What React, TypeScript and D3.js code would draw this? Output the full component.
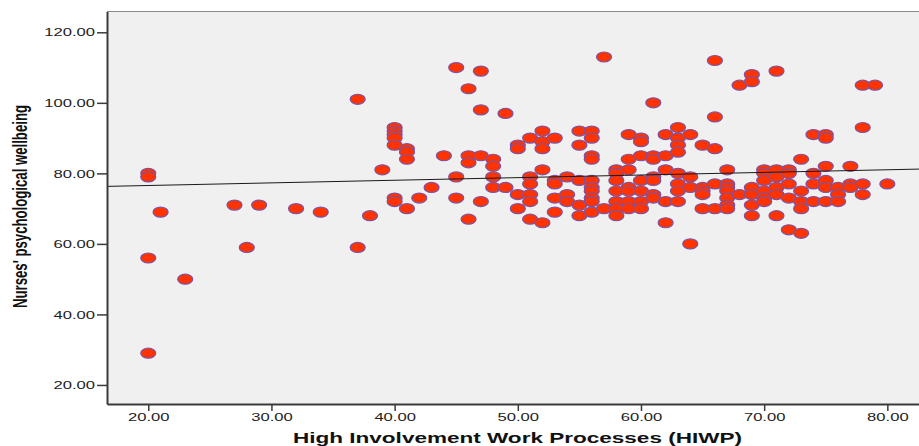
import React, { useEffect, useRef } from 'react';
import * as d3 from 'd3';

// HIWP score levels and the wellbeing scores recorded at each level
const hiwpScores = [20, 21, 23, 27, 28, 29, 32, 34, 37, 38, 39, 40, 41, 42, 43, 44, 45, 46, 47, 48, 49, 50,
  51, 52, 53, 54, 55, 56, 57, 58, 59, 60, 61, 62, 63, 64, 65, 66, 67, 68, 69, 70, 71, 72, 73, 74, 75, 76, 77, 78, 79, 80];

const wellbeingByScore = [
  [80, 79, 56, 29], // 20
  [69], // 21
  [50], // 23
  [71], // 27
  [59], // 28
  [71], // 29
  [70], // 32
  [69], // 34
  [101, 59], // 37
  [68], // 38
  [81], // 39
  [93, 92, 91, 90, 88, 73, 72], // 40
  [87, 86, 84, 70], // 41
  [73], // 42
  [76], // 43
  [85], // 44
  [110, 79, 73], // 45
  [104, 85, 83, 67], // 46
  [109, 98, 85, 72], // 47
  [84, 82, 79, 76], // 48
  [97, 76], // 49
  [88, 87, 74, 70], // 50
  [90, 79, 77, 74, 72, 67], // 51
  [92, 89, 87, 81, 66], // 52
  [90, 78, 77, 73, 69], // 53
  [79, 74, 72], // 54
  [92, 88, 78, 71, 68], // 55
  [92, 90, 85, 84, 78, 76, 75, 73, 72, 69], // 56
  [113, 70], // 57
  [81, 80, 78, 75, 72, 70, 68], // 58
  [91, 84, 81, 76, 75, 72, 70], // 59
  [90, 89, 85, 78, 75, 72, 70], // 60
  [100, 85, 84, 79, 78, 74, 73], // 61
  [91, 85, 81, 72, 66], // 62
  [93, 90, 88, 86, 80, 77, 75, 72], // 63
  [91, 79, 76, 60], // 64
  [88, 76, 75, 74, 70], // 65
  [112, 96, 87, 77, 70], // 66
  [81, 77, 76, 75, 73, 71, 70], // 67
  [105, 74], // 68
  [108, 106, 76, 74, 71, 68], // 69
  [81, 80, 78, 75, 73, 72], // 70
  [109, 81, 79, 76, 74, 68], // 71
  [81, 80, 77, 73, 64], // 72
  [84, 75, 72, 70, 63], // 73
  [91, 80, 77, 72], // 74
  [91, 90, 82, 78, 76, 72], // 75
  [76, 74, 72], // 76
  [82, 77, 76], // 77
  [105, 93, 77, 74], // 78
  [105], // 79
  [77], // 80
];

const xTicks = [20, 30, 40, 50, 60, 70, 80];
const yTicks = [20, 40, 60, 80, 100, 120];

// fit line as drawn in the original (wellbeing = a + b * HIWP)
const fitIntercept = 75.07;
const fitSlope = 0.0744;

const xTitle = 'High Involvement Work Processes (HIWP)';
const yTitle = "Nurses' psychological wellbeing";

const App = () => {
  const svgRef = useRef(null);

  useEffect(() => {
    const svg = d3.select(svgRef.current);
    svg.selectAll('*').remove();

    const left = 107, right = 928, top = 11.5, bottom = 404;
    const stretch = 1.58;
    const font = "'Liberation Sans', Arial, sans-serif";

    const x = d3.scaleLinear().domain([16.65, 83.3]).range([left, right]);
    const y = d3.scaleLinear().domain([14.6, 125.9]).range([bottom, top]);

    // plot background
    svg.append('rect')
      .attr('x', left).attr('y', top)
      .attr('width', right - left).attr('height', bottom - top)
      .attr('fill', '#f0f0f0');

    svg.append('line')
      .attr('x1', left).attr('x2', right)
      .attr('y1', top).attr('y2', top)
      .attr('stroke', '#8a8a8a').attr('stroke-width', 1.2);

    // points
    const points = hiwpScores.flatMap((s, i) => wellbeingByScore[i].map(v => ({ s, v })));
    svg.append('g')
      .selectAll('ellipse')
      .data(points)
      .join('ellipse')
      .attr('cx', d => x(d.s))
      .attr('cy', d => y(d.v))
      .attr('rx', 7.5)
      .attr('ry', 5)
      .attr('fill', '#ff3300')
      .attr('stroke', '#7d52a3')
      .attr('stroke-width', 1.2);

    // fit line
    const line = d3.line()
      .x(d => x(d))
      .y(d => y(fitIntercept + fitSlope * d));
    svg.append('path')
      .datum(x.domain())
      .attr('d', line)
      .attr('fill', 'none')
      .attr('stroke', '#1a1a1a')
      .attr('stroke-width', 1);

    // y axis
    const gy = svg.append('g')
      .attr('transform', `translate(${left},0)`)
      .call(d3.axisLeft(y).tickValues(yTicks).tickSize(10).tickSizeOuter(0).tickFormat(d3.format('.2f')));
    gy.select('.domain').attr('stroke', '#3a3a3a').attr('stroke-width', 2);
    gy.selectAll('.tick line').attr('stroke', '#3a3a3a').attr('stroke-width', 1.5);
    gy.selectAll('.tick text')
      .attr('x', null)
      .attr('transform', `translate(-12,0) scale(${stretch},1)`)
      .attr('dy', '0.35em')
      .style('font-family', font)
      .style('font-size', '10.5px')
      .style('fill', '#222');

    // x axis
    const gx = svg.append('g')
      .attr('transform', `translate(0,${bottom})`)
      .call(d3.axisBottom(x).tickValues(xTicks).tickSize(7).tickSizeOuter(0).tickFormat(d3.format('.2f')));
    gx.select('.domain').attr('stroke', '#3a3a3a').attr('stroke-width', 2);
    gx.selectAll('.tick line').attr('stroke', '#3a3a3a').attr('stroke-width', 1.5);
    gx.selectAll('.tick text')
      .attr('y', null)
      .attr('dy', null)
      .attr('transform', `translate(0,16.5) scale(${stretch},1)`)
      .style('font-family', font)
      .style('font-size', '10.5px')
      .style('fill', '#222');

    svg.selectAll('.domain').attr('fill', 'none');
    svg.selectAll('g').attr('font-family', null);

    // axis titles
    svg.append('text')
      .attr('x', 517.5)
      .attr('y', 443.3)
      .attr('text-anchor', 'middle')
      .attr('textLength', 449)
      .attr('lengthAdjust', 'spacingAndGlyphs')
      .style('font-family', font)
      .style('font-weight', 'bold')
      .style('font-size', '15.4px')
      .style('fill', '#111')
      .text(xTitle);

    svg.append('text')
      .attr('transform', `translate(26.5,206.5) scale(${stretch},1) rotate(-90)`)
      .attr('text-anchor', 'middle')
      .attr('textLength', 203)
      .attr('lengthAdjust', 'spacingAndGlyphs')
      .style('font-family', font)
      .style('font-weight', 'bold')
      .style('font-size', '13.2px')
      .style('fill', '#111')
      .text(yTitle);
  }, []);

  return (
    <svg
      ref={svgRef}
      width={919}
      height={446}
      style={{ position: 'absolute', left: 0, top: 0, background: '#fff' }}
    />
  );
};

export default App;
